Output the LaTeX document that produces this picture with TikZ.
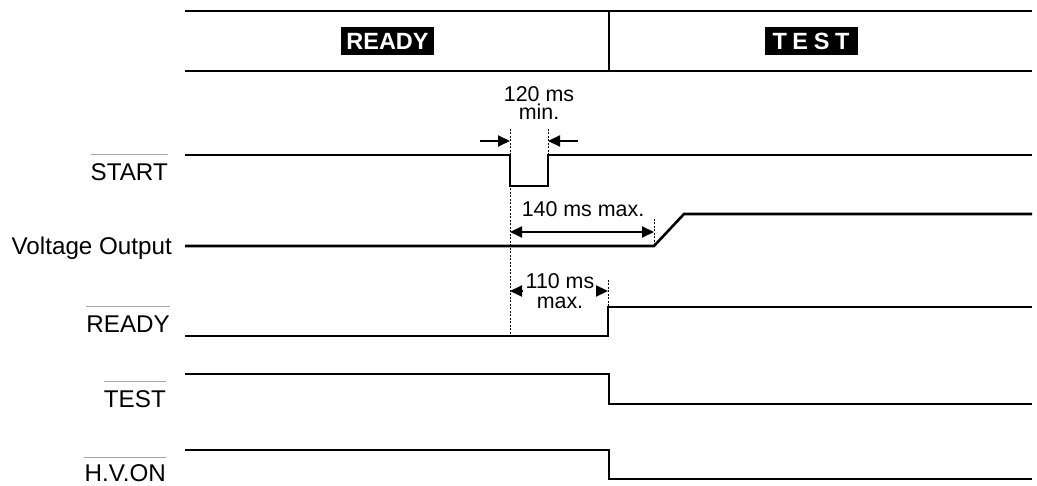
\documentclass[tikz,border=0pt]{standalone}
\usepackage{fontspec}
\setmainfont{Liberation Sans}
\usetikzlibrary{arrows.meta}
\begin{document}
\begin{tikzpicture}[x=1pt,y=-1pt,
 sig/.style={line width=2.6pt, line join=miter},
 hdr/.style={line width=2.2pt},
 guide/.style={line width=0.9pt, dash pattern=on 2pt off 1.5pt},
 lbl/.style={anchor=base east, inner sep=0pt, font=\fontsize{24.2}{27}\selectfont},
 ovl/.style={black!35, line width=1pt},
 ann/.style={anchor=base, inner sep=0pt, align=center},
 tipr/.style={-{Triangle[length=12pt,width=11pt]}, line width=2pt},
 dbl/.style={{Triangle[length=12pt,width=11pt]}-{Triangle[length=12pt,width=11pt]}, line width=2pt},
 badge/.style={fill=black, text=white, minimum width=93pt, minimum height=28pt, inner sep=0pt, font=\fontsize{23.5}{26}\selectfont\bfseries}]
\useasboundingbox (0,0) rectangle (1037,486);

% header
\coordinate (hl1) at (185,11); \coordinate (hr1) at (1032,11);
\coordinate (hl2) at (185,71); \coordinate (hr2) at (1032,71);
\coordinate (dvt) at (609,11); \coordinate (dvb) at (609,71);
\draw[hdr] (hl1) -- (hr1);
\draw[hdr] (hl2) -- (hr2);
\draw[hdr] (dvt) -- (dvb);
\node[badge] (hready) at (387.5,41) {READY};
\node[badge] (htest) at (811,41) {\addfontfeature{LetterSpace=24}TEST};

% labels
\node[lbl] (lstart) at (168,181) {START};
\node[lbl] (lvolt) at (172,255) {Voltage Output};
\node[lbl] (lready) at (170,333) {READY};
\node[lbl] (ltest) at (166,408) {TEST};
\node[lbl] (lhv) at (166,482) {H.V.ON};
\draw[ovl] (lstart.west |- 0,155) -- (lstart.east |- 0,155);
\draw[ovl] (lready.west |- 0,307) -- (lready.east |- 0,307);
\draw[ovl] (ltest.west |- 0,382) -- (ltest.east |- 0,382);
\draw[ovl] (lhv.west |- 0,457) -- (lhv.east |- 0,457);

% signals
\draw[sig] (185,155) -- (510,155) -- (510,186) -- (548,186) -- (548,155) -- (1032,155);
\draw[sig] (185,246) -- (654,246) -- (684,214) -- (1032,214);
\draw[sig] (185,336) -- (608,336) -- (608,307) -- (1032,307);
\draw[sig] (185,374) -- (609,374) -- (609,404) -- (1032,404);
\draw[sig] (185,450) -- (609,450) -- (609,479) -- (1032,479);

% guides
\coordinate (g1t) at (510,129); \coordinate (g1b) at (510,336);
\coordinate (g2t) at (548,129); \coordinate (g2b) at (548,155);
\coordinate (g3t) at (654,219); \coordinate (g3b) at (654,246);
\coordinate (g4t) at (608,280); \coordinate (g4b) at (608,307);
\draw[guide] (g1t) -- (g1b);
\draw[guide] (g2t) -- (g2b);
\draw[guide] (g3t) -- (g3b);
\draw[guide] (g4t) -- (g4b);

% 120 ms min.
\coordinate (a1s) at (480,141); \coordinate (a1e) at (510,141);
\coordinate (a2s) at (578,141); \coordinate (a2e) at (548,141);
\draw[tipr] (a1s) -- (a1e);
\draw[tipr] (a2s) -- (a2e);
\node[ann, font=\fontsize{21.4}{18.5}\selectfont] (t120) at (539,120) {120 ms\\min.};

% 140 ms max.
\coordinate (b1) at (510,232); \coordinate (b2) at (654,232);
\draw[dbl] (b1) -- (b2);
\node[ann, font=\fontsize{21.4}{22}\selectfont] (t140) at (583,217) {140 ms max.};

% 110 ms max.
\coordinate (c1s) at (522,291); \coordinate (c1e) at (510,291);
\coordinate (c2s) at (596,291); \coordinate (c2e) at (608,291);
\draw[tipr] (c1s) -- (c1e);
\draw[tipr] (c2s) -- (c2e);
\node[ann, font=\fontsize{21.4}{20}\selectfont] (t110) at (560,309) {110 ms\\max.};
\end{tikzpicture}
\end{document}
